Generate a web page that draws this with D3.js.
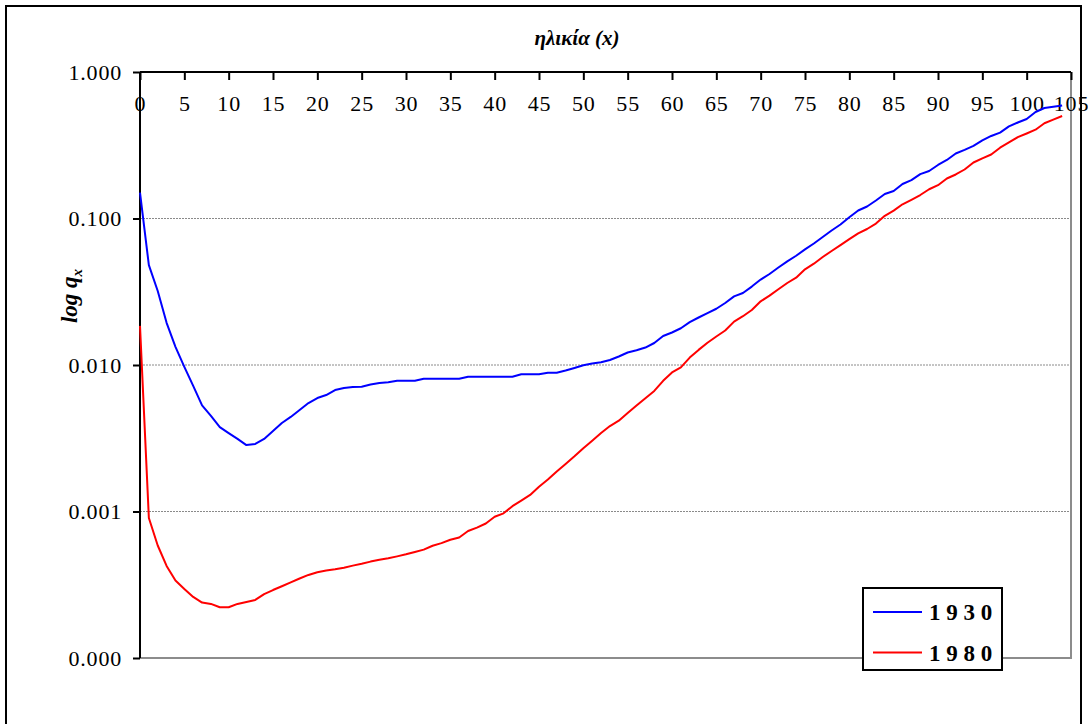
<!DOCTYPE html>
<html>
<head>
<meta charset="utf-8">
<script src="https://cdn.jsdelivr.net/npm/d3@7"></script>
<style>
  html, body { margin: 0; padding: 0; background: #fff; }
  svg { display: block; }
  text { font-family: "Liberation Serif", "Times New Roman", serif; fill: #000; }
</style>
</head>
<body>
<svg id="chart" width="1088" height="724"></svg>
<script>
// Ages 0..104
const ages = d3.range(0, 105);

// Probability of death q_x by age, cohort 1930
const q1930 = [0.150, 0.048, 0.032, 0.0194, 0.0133, 0.0097, 0.0072, 0.0053, 0.0045, 0.00377,
  0.00343, 0.00313, 0.00284, 0.00289, 0.00313, 0.00354, 0.00402, 0.00442, 0.00493, 0.0055,
  0.00595, 0.00624, 0.00675, 0.00697, 0.00708, 0.0071, 0.00736, 0.00754, 0.00762, 0.00781,
  0.00781, 0.00781, 0.00806, 0.00806, 0.00806, 0.00806, 0.00806, 0.00832, 0.00832, 0.00832,
  0.00832, 0.00832, 0.00832, 0.00864, 0.00864, 0.00864, 0.00886, 0.00886, 0.00917, 0.00954,
  0.00995, 0.01024, 0.01044, 0.01082, 0.01143, 0.01217, 0.0126, 0.01316, 0.01413, 0.01578,
  0.01667, 0.01781, 0.0196, 0.0211, 0.0226, 0.0242, 0.0265, 0.0294, 0.0310, 0.0343,
  0.0383, 0.0418, 0.0463, 0.0510, 0.0557, 0.0615, 0.0675, 0.0748, 0.0828, 0.0910,
  0.1019, 0.1134, 0.1208, 0.1327, 0.147, 0.154, 0.172, 0.183, 0.201, 0.211,
  0.232, 0.251, 0.278, 0.294, 0.313, 0.341, 0.366, 0.386, 0.425, 0.452,
  0.478, 0.533, 0.568, 0.580, 0.591];

// Probability of death q_x by age, cohort 1980
const q1980 = [0.0185, 0.000903, 0.000586, 0.000425, 0.000338, 0.000296, 0.000261, 0.000239, 0.000234, 0.000222,
  0.000222, 0.000234, 0.000241, 0.000249, 0.000273, 0.000291, 0.000309, 0.000328, 0.000349, 0.000369,
  0.000385, 0.000396, 0.000403, 0.000413, 0.000427, 0.000440, 0.000455, 0.000468, 0.000479, 0.000494,
  0.000510, 0.000529, 0.000549, 0.000584, 0.000608, 0.000641, 0.000665, 0.000736, 0.000776, 0.000828,
  0.000920, 0.000972, 0.001087, 0.001187, 0.001297, 0.001477, 0.001653, 0.001876, 0.00211, 0.00238,
  0.00270, 0.00304, 0.00343, 0.00383, 0.00417, 0.00470, 0.00529, 0.00593, 0.00665, 0.00780,
  0.00889, 0.00964, 0.01124, 0.01268, 0.01419, 0.01566, 0.01720, 0.01978, 0.02153, 0.02373,
  0.02721, 0.02977, 0.03291, 0.03629, 0.03945, 0.04500, 0.04915, 0.05460, 0.06000, 0.06576,
  0.07224, 0.07904, 0.0848, 0.0923, 0.1043, 0.1132, 0.1250, 0.1342, 0.1446, 0.1583,
  0.1688, 0.1875, 0.1997, 0.2160, 0.2412, 0.2576, 0.2734, 0.3043, 0.3303, 0.3589,
  0.3802, 0.4038, 0.4466, 0.4733, 0.5005];

const seriesNames = ["1 9 3 0", "1 9 8 0"];
const seriesColors = ["#0000ff", "#ff0000"];
const xTicks = d3.range(0, 106, 5);
const yTicks = [1, 0.1, 0.01, 0.001, 0.0001];
const titleText = "ηλικία (x)";
const yLabelText = "log q";
const yLabelSub = "x";

const serif = '"Liberation Serif", "Times New Roman", serif';
const svg = d3.select("#chart");

// Outer chart frame
svg.append("rect")
  .attr("x", 6).attr("y", 6).attr("width", 1075).attr("height", 740)
  .attr("fill", "#fff").attr("stroke", "#000").attr("stroke-width", 2);

const plot = { left: 140, right: 1071, top: 72, bottom: 658 };

const x = d3.scaleLinear().domain([0, 105]).range([plot.left, plot.right]);
const y = d3.scaleLog().domain([0.0001, 1]).range([plot.bottom, plot.top]);

// Horizontal gridlines
svg.append("g")
  .selectAll("line")
  .data(yTicks.filter(v => v < 1 && v > 0.0001))
  .join("line")
  .attr("x1", plot.left).attr("x2", plot.right)
  .attr("y1", d => y(d)).attr("y2", d => y(d))
  .attr("stroke", "#8a8a8a").attr("stroke-width", 1)
  .attr("stroke-dasharray", "2,1");

// Plot area border (right and bottom)
svg.append("path")
  .attr("d", `M${plot.left},${plot.bottom}H${plot.right}V${plot.top}`)
  .attr("fill", "none").attr("stroke", "#8c8c8c").attr("stroke-width", 2);

// Y axis (log)
const yAxis = svg.append("g")
  .attr("transform", `translate(${plot.left},0)`)
  .call(d3.axisLeft(y).tickValues(yTicks).tickFormat(d3.format(".3f")).tickSize(7).tickPadding(11));
yAxis.attr("font-family", null);
yAxis.select(".domain").attr("stroke", "#000").attr("stroke-width", 2)
  .attr("d", `M0,${plot.top}V${plot.bottom}`);
yAxis.selectAll(".tick line").attr("stroke", "#000").attr("stroke-width", 2);
yAxis.selectAll(".tick text")
  .style("font-family", serif).style("font-size", "22px")
  .attr("letter-spacing", "0.8px").attr("dy", "0.34em");

// X axis along the top, ticks pointing into the plot
const xAxis = svg.append("g")
  .attr("transform", `translate(0,${plot.top})`)
  .call(d3.axisBottom(x).tickValues(xTicks).tickSize(8).tickPadding(0));
xAxis.attr("font-family", null);
xAxis.select(".domain").attr("stroke", "#000").attr("stroke-width", 2)
  .attr("d", `M${plot.left},0H${plot.right}`);
xAxis.selectAll(".tick line").attr("stroke", "#000").attr("stroke-width", 2);
xAxis.selectAll(".tick text")
  .style("font-family", serif).style("font-size", "22px")
  .attr("letter-spacing", "0.8px")
  .attr("y", 39).attr("dy", 0);

// Curves
const line = d3.line()
  .x(d => x(d[0]))
  .y(d => y(d[1]));

[q1930, q1980].forEach((vals, i) => {
  svg.append("path")
    .datum(ages.map((a, j) => [a, vals[j]]))
    .attr("d", line)
    .attr("fill", "none")
    .attr("stroke", seriesColors[i])
    .attr("stroke-width", 2)
    .attr("stroke-linejoin", "round");
});

// Title
svg.append("text")
  .attr("x", 577).attr("y", 45)
  .attr("text-anchor", "middle")
  .style("font-family", serif).style("font-size", "21px")
  .attr("font-weight", "bold").attr("font-style", "italic")
  .text(titleText);

// Y axis label
const yl = svg.append("text")
  .attr("transform", "translate(77,296) rotate(-90)")
  .attr("text-anchor", "middle")
  .style("font-family", serif).style("font-size", "23px")
  .attr("font-weight", "bold").attr("font-style", "italic");
yl.append("tspan").text(yLabelText);
yl.append("tspan").style("font-size", "15px").attr("dy", 5).text(yLabelSub);

// Legend
const legend = svg.append("g");
legend.append("rect")
  .attr("x", 863).attr("y", 588).attr("width", 139).attr("height", 82)
  .attr("fill", "#fff").attr("stroke", "#000").attr("stroke-width", 2);
seriesNames.forEach((name, i) => {
  const ly = 612 + i * 40.5;
  legend.append("line")
    .attr("x1", 873).attr("x2", 922).attr("y1", ly).attr("y2", ly)
    .attr("stroke", seriesColors[i]).attr("stroke-width", 2);
  legend.append("text")
    .attr("x", 929).attr("y", ly + 8)
    .style("font-family", serif).style("font-size", "23px")
    .attr("font-weight", "bold")
    .text(name);
});
</script>
</body>
</html>
